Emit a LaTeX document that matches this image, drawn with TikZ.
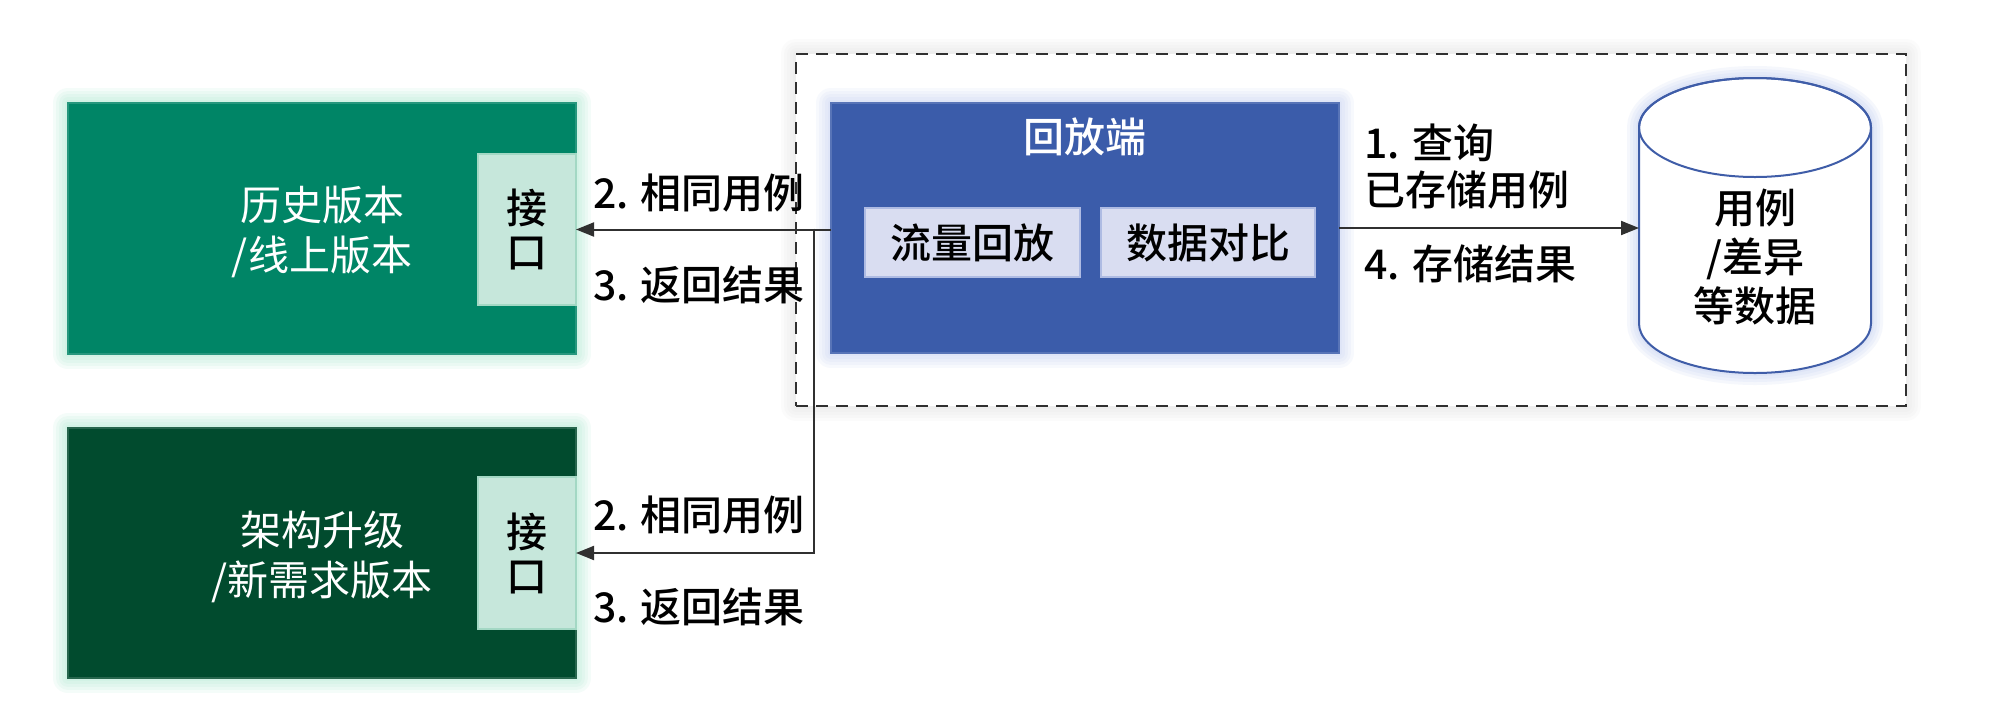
\documentclass[tikz,border=0pt]{standalone}
\usepackage{fontspec}
\setmainfont{Noto Sans CJK SC}[BoldFont={Noto Sans CJK SC Medium}]
\usetikzlibrary{arrows.meta}
\definecolor{gOne}{HTML}{008566}
\definecolor{gTwo}{HTML}{014B2E}
\definecolor{ifFill}{HTML}{C6E7DB}
\definecolor{ifEdge}{HTML}{A3D8C4}
\definecolor{gGlow}{HTML}{8FE0C0}
\definecolor{bMain}{HTML}{3B5CAA}
\definecolor{bGlow}{HTML}{AFC0EE}
\definecolor{subFill}{HTML}{D9DDF1}
\definecolor{subEdge}{HTML}{AEBBE3}
\definecolor{cylEdge}{HTML}{3F5DA8}
\definecolor{lineC}{HTML}{303030}
\newcommand\myglow[3]{\foreach \w in {6,12,18,24,30}{\draw[#3,line width=\w pt,opacity=0.09,line join=round] #1 rectangle #2;}}
\tikzset{
  base/.style={anchor=north west, inner sep=0pt, outer sep=0pt},
  bigbox/.style={base, fill=#1, draw=#1!85!white, line width=1.5pt},
  ifbox/.style={base, fill=ifFill, draw=ifEdge, line width=2pt},
  subbox/.style={base, fill=subFill, draw=subEdge, line width=2.5pt},
  wtxt/.style={text=white, font=\fontsize{41}{50}\selectfont, align=center, inner sep=0pt},
  ktxt/.style={text=black, font=\fontsize{41}{48}\selectfont\bfseries, align=center, inner sep=0pt},
  arr/.style={draw=lineC, line width=2pt, -{Triangle[length=18pt,width=14pt]}},
  ln/.style={draw=lineC, line width=2pt}
}
\begin{document}
\begin{tikzpicture}[x=1pt,y=-1pt]
\fill[white] (0,0) rectangle (2000,702);
\useasboundingbox (0,0) rectangle (2000,702);

% dashed container
\myglow{(796,54)}{(1906,406)}{black!15}
\node[base, fill=white, draw=lineC, line width=2pt, dash pattern=on 12pt off 8pt,
      minimum width=1110pt, minimum height=352pt] (cont) at (796,54) {};

% green box 1
\myglow{(68,103)}{(576,354)}{gGlow}
\node[bigbox=gOne, minimum width=508pt, minimum height=251pt] (g1) at (68,103) {};
\node[ifbox, minimum width=98pt, minimum height=151pt] (if1) at (478,154) {};
\node[wtxt] (t1) at (322,232) {历史版本\\/线上版本};
\node[ktxt, font=\fontsize{41}{44}\selectfont\bfseries] (i1) at (if1.center) {接\\口};

% green box 2
\myglow{(68,428)}{(576,678)}{gGlow}
\node[bigbox=gTwo, minimum width=508pt, minimum height=250pt] (g2) at (68,428) {};
\node[ifbox, minimum width=98pt, minimum height=152pt] (if2) at (478,477) {};
\node[wtxt] (t2) at (322,557) {架构升级\\/新需求版本};
\node[ktxt, font=\fontsize{41}{44}\selectfont\bfseries] (i2) at (if2.center) {接\\口};

% blue box
\myglow{(831,103)}{(1339,353)}{bGlow}
\node[bigbox=bMain, minimum width=508pt, minimum height=250pt] (blue) at (831,103) {};
\node[wtxt, font=\fontsize{41}{50}\selectfont\bfseries] (bt) at (1085,137) {回放端};
\node[subbox, minimum width=215pt, minimum height=69pt] (s1) at (865,208) {};
\node[subbox, minimum width=214pt, minimum height=69pt] (s2) at (1101,208) {};
\node[ktxt] (s1t) at (s1.center) {流量回放};
\node[ktxt] (s2t) at (s2.center) {数据对比};

% cylinder
\foreach \w in {6,12,18,24}{
  \draw[bGlow, line width=\w pt, opacity=0.12]
    (1639,127.5) -- (1639,323.5) arc[start angle=180, end angle=360, x radius=116pt, y radius=49.5pt]
    -- (1871,127.5) arc[start angle=0, end angle=180, x radius=116pt, y radius=49.5pt] -- cycle;
}
\filldraw[fill=white, draw=cylEdge, line width=2pt]
    (1639,127.5) -- (1639,323.5) arc[start angle=180, end angle=360, x radius=116pt, y radius=49.5pt]
    -- (1871,127.5) arc[start angle=0, end angle=180, x radius=116pt, y radius=49.5pt] -- cycle;
\draw[draw=cylEdge, line width=2pt] (1755,127.5) ellipse [x radius=116pt, y radius=49.5pt];
\coordinate (cylL) at (1639,228);
\node[ktxt, font=\fontsize{41}{49}\selectfont\bfseries] (ct) at (1755,257) {用例\\/差异\\等数据};

% connectors
\coordinate (j) at (814,228.5);
\draw[arr] (blue.west |- if1.east) -- (if1.east);
\draw[arr] (j) |- (if2.east);
\draw[arr] (blue.east) -- (cylL);

% labels
\node[ktxt] (l1) at (699,193) {2. 相同用例};
\node[ktxt] (l2) at (699,285) {3. 返回结果};
\node[ktxt] (l3) at (699,515) {2. 相同用例};
\node[ktxt] (l4) at (699,607) {3. 返回结果};
\node[ktxt, anchor=west] (r1) at (1364,143) {1. 查询};
\node[ktxt, anchor=west] (r2) at (1364,190) {已存储用例};
\node[ktxt, anchor=west] (r3) at (1364,264) {4. 存储结果};
\end{tikzpicture}
\end{document}
